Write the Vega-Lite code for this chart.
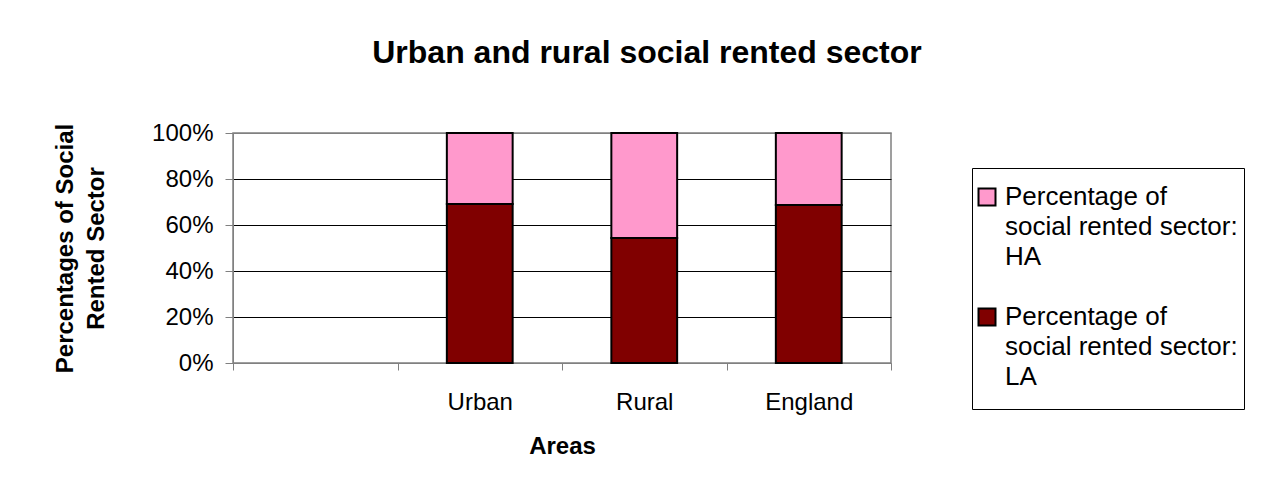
{
  "$schema": "https://vega.github.io/schema/vega-lite/v6.json",
  "width": 658,
  "height": 230,
  "autosize": {"type": "none"},
  "padding": {"left": 233, "top": 133, "right": 380, "bottom": 116},
  "background": "white",
  "title": {
    "text": "Urban and rural social rented sector",
    "fontSize": 32,
    "fontWeight": "bold",
    "font": "Liberation Sans",
    "anchor": "middle",
    "frame": "group",
    "dx": 85,
    "offset": 51,
    "color": "black"
  },
  "data": {
    "values": [
      {"area": "Urban", "series": "Percentage of social rented sector: LA", "value": 69.1},
      {"area": "Urban", "series": "Percentage of social rented sector: HA", "value": 30.9},
      {"area": "Rural", "series": "Percentage of social rented sector: LA", "value": 54.3},
      {"area": "Rural", "series": "Percentage of social rented sector: HA", "value": 45.7},
      {"area": "England", "series": "Percentage of social rented sector: LA", "value": 68.7},
      {"area": "England", "series": "Percentage of social rented sector: HA", "value": 31.3}
    ]
  },
  "mark": {"type": "bar", "stroke": "black", "strokeWidth": 2, "width": {"band": 0.4}},
  "encoding": {
    "x": {
      "field": "area",
      "type": "nominal",
      "sort": null,
      "scale": {"domain": ["", "Urban", "Rural", "England"], "paddingInner": 0, "paddingOuter": 0},
      "axis": {
        "title": "Areas",
        "titleFontSize": 24,
        "titleFontWeight": "bold",
        "titleColor": "black",
        "titleY": 90,
        "titleBaseline": "alphabetic",
        "labelAngle": 0,
        "labelFontSize": 24,
        "labelColor": "black",
        "tickBand": "extent",
        "tickSize": 7,
        "tickColor": "#808080",
        "domainColor": "#808080",
        "labelPadding": 20,
        "grid": false
      }
    },
    "y": {
      "field": "value",
      "type": "quantitative",
      "stack": "normalize",
      "scale": {"domain": [0, 1]},
      "axis": {
        "title": ["Percentages of Social", "Rented Sector"],
        "titleFontSize": 24,
        "titleFontWeight": "bold",
        "titleColor": "black",
        "titleAngle": -90,
        "titleX": -161,
        "titleY": 115,
        "titleAlign": "center",
        "titleBaseline": "alphabetic",
        "titleLineHeight": 31,
        "format": ".0%",
        "values": [0, 0.2, 0.4, 0.6, 0.8, 1],
        "labelFontSize": 24,
        "labelColor": "black",
        "labelPadding": 12,
        "labelFlush": false,
        "labelOverlap": false,
        "tickSize": 8,
        "tickColor": "#808080",
        "domainColor": "#808080",
        "grid": true,
        "gridColor": {"condition": {"test": "datum.value == 0 || datum.value == 1", "value": "#808080"}, "value": "black"},
        "gridWidth": 1
      }
    },
    "color": {
      "field": "series",
      "type": "nominal",
      "scale": {
        "domain": ["Percentage of social rented sector: HA", "Percentage of social rented sector: LA"],
        "range": ["#FF99CC", "#800000"]
      },
      "legend": {
        "title": " ",
        "titleFontSize": 6,
        "titlePadding": 4,
        "orient": "none",
        "legendX": 739,
        "legendY": 35,
        "strokeColor": "black",
        "fillColor": "white",
        "padding": 6,
        "labelFontSize": 26,
        "labelColor": "black",
        "labelLimit": 400,
        "labelOffset": 5,
        "labelBaseline": "alphabetic",
        "symbolType": "M-1,-1H1V1H-1Z M0,9.6",
        "symbolSize": 289,
        "symbolOffset": -4,
        "symbolStrokeColor": "black",
        "symbolStrokeWidth": 2,
        "symbolOpacity": 1,
        "rowPadding": 21,
        "labelExpr": "indexof(datum.label, 'HA') >= 0 ? ['Percentage of', 'social rented sector:', 'HA'] : ['Percentage of', 'social rented sector:', 'LA']",
        "encode": {
          "labels": {"update": {"lineHeight": {"value": 30}, "dy": {"value": 8}}}
        }
      }
    },
    "order": {"field": "series", "sort": "descending"}
  },
  "config": {
    "view": {"stroke": "#808080", "strokeWidth": 1.5},
    "font": "Liberation Sans"
  }
}
